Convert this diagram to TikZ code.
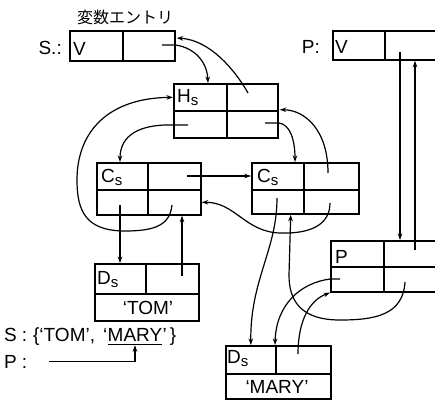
\documentclass[tikz,border=0pt]{standalone}
\usepackage{fontspec}
\setmainfont{Liberation Sans}
\newfontfamily\jpfont{Noto Sans CJK JP}
\usetikzlibrary{arrows.meta,calc}
\newcommand\lows{\raisebox{-3pt}{\fontsize{15}{15}\selectfont s}}
\begin{document}
\begin{tikzpicture}[x=1pt,y=-1pt,
  cell/.style 2 args={draw, line width=1.7pt, inner sep=0pt, anchor=north west,
    minimum width=#1pt, minimum height=#2pt},
  txt/.style={inner sep=0pt, font=\fontsize{19}{19}\selectfont},
  jp/.style={inner sep=0pt, font=\jpfont\fontsize{16}{16}\selectfont},
  ptr/.style={line width=1.2pt, -{Stealth[length=6.5pt,width=4.5pt]}},
  wire/.style={line width=1.2pt}]
\useasboundingbox (0,0) rectangle (435,408);
\clip (0,0) rectangle (435,408);
% variable entry S
\node[cell={53}{30}] (sV) at (69,30) {};
\node[cell={52}{30}] (sR) at (122,30) {};
% variable entry P
\node[cell={52}{29}] (pV) at (332,30) {};
\node[cell={60}{29}] (pR) at (384,30) {};
% Hs
\node[cell={53}{27}] (hTL) at (173,83) {};
\node[cell={51}{27}] (hTR) at (226,83) {};
\node[cell={53}{27}] (hBL) at (173,110) {};
\node[cell={51}{27}] (hBR) at (226,110) {};
% Cs left
\node[cell={51}{27}] (c1TL) at (96,162) {};
\node[cell={53}{27}] (c1TR) at (147,162) {};
\node[cell={51}{25}] (c1BL) at (96,189) {};
\node[cell={53}{25}] (c1BR) at (147,189) {};
% Cs right
\node[cell={52}{27}] (c2TL) at (251,162) {};
\node[cell={55}{27}] (c2TR) at (303,162) {};
\node[cell={52}{24}] (c2BL) at (251,189) {};
\node[cell={55}{24}] (c2BR) at (303,189) {};
% Ds TOM
\node[cell={51}{30}] (dTL) at (94,263) {};
\node[cell={53}{30}] (dTR) at (145,263) {};
\node[cell={104}{27}] (dB) at (94,293) {};
% P lower
\node[cell={53}{26}] (qTL) at (330,240) {};
\node[cell={60}{26}] (qTR) at (383,240) {};
\node[cell={53}{25}] (qBL) at (330,266) {};
\node[cell={60}{25}] (qBR) at (383,266) {};
% Ds MARY
\node[cell={50}{28}] (mTL) at (225,345) {};
\node[cell={55}{28}] (mTR) at (275,345) {};
\node[cell={105}{25}] (mB) at (225,373) {};
% texts
\node[jp] (lJ) at (125,17) {変数エントリ};
\node[txt, anchor=base east] (lS) at (62,54) {S.:};
\node[txt, anchor=base east] (lP) at (320,53) {P:};
\node[txt, anchor=base west] (tSV) at (73,55) {V};
\node[txt, anchor=base west] (tPV) at (335,53) {V};
\node[txt, anchor=base west] (tH) at (177,102) {H\lows};
\node[txt, anchor=base west] (tC1) at (101,182) {C\lows};
\node[txt, anchor=base west] (tC2) at (257,182) {C\lows};
\node[txt, anchor=base west] (tD1) at (97,284) {D\lows};
\node[txt, anchor=base] (tTOM) at (148,314) {`TOM'};
\node[txt, anchor=base west] (tP) at (335,263) {P};
\node[txt, anchor=base west] (tD2) at (227,363) {D\lows};
\node[txt, anchor=base] (tMARY) at (277,393) {`MARY'};
% set expression
\node[txt, anchor=base west] (sA) at (4,341) {S\hspace{5pt}:\hspace{6pt}\{`TOM',\hspace{8pt}`};
\node[txt, anchor=base west] (sM) at (sA.base east) {MARY};
\node[txt, anchor=base west] (sC) at (sM.base east) {'\hspace{3pt}\}};
\node[txt, anchor=base west] (lP2) at (4,368) {P\hspace{5pt}:};
\draw[wire] ($(sM.south west)+(0,3)$) -- ($(sM.south east)+(0,3)$);
\draw[ptr] ($(lP2.east)+(22,0)$) -| ($(sM.south)+(0,4)$);
% pointer origins
\coordinate (a1) at (162,45);
\coordinate (a2) at (248,93);
\coordinate (a3) at (172,205);
\coordinate (a4) at (188,125);
\coordinate (a5) at (265,123);
\coordinate (a6) at (328,173);
\coordinate (a7) at (187,176);
\coordinate (a8) at (120,205);
\coordinate (a9) at (182,276);
\coordinate (a10) at (330,203);
\coordinate (a11) at (277,198);
\coordinate (a12) at (405,282);
\coordinate (a13) at (340,279);
\coordinate (a14) at (298,354);
\coordinate (a15) at (400,52);
\coordinate (a16) at (415,250);
% pointer targets
\coordinate (hIn) at ($(hTL.north west)+(35,0)$);
\coordinate (sIn) at ($(sR.north east)+(1,8)$);
\coordinate (c1In) at ($(c1TL.north west)+(24,0)$);
\coordinate (c2In) at ($(c2TL.north west)+(44,0)$);
\coordinate (hEin) at ($(hTR.south east)+(1,-2)$);
\coordinate (c2Bin) at ($(c2BL.south east)+(-14,0)$);
% connectors
\draw[ptr] (a1) -- (sR.east |- a1) .. controls (195,48) and (207,62) .. (hIn);
\draw[ptr] (a2) .. controls (235,70) and (210,40) .. (sIn);
\draw[ptr] (a3) .. controls (170,225) and (155,231) .. (125,231)
  .. controls (85,231) and (77,210) .. (77,180)
  .. controls (77,130) and (110,98) .. (hTL.west);
\draw[ptr] (a4) -- (hBL.west |- a4) .. controls (140,124) and (120,135) .. (c1In);
\draw[ptr] (a5) -- (hBR.east |- a5) .. controls (290,124) and (295,140) .. (c2In);
\draw[ptr] (a6) .. controls (328,130) and (305,110) .. (hEin);
\draw[ptr] (a7) -- (c2TL.west |- a7);
\draw[ptr] (a8) -- (a8 |- dTL.north);
\draw[ptr] (a9) -- (a9 |- c1BR.south);
\draw[ptr] (a10) .. controls (330,225) and (310,234) .. (280,233)
  .. controls (245,232) and (235,202) .. (c1BR.east);
\draw[ptr] (a11) .. controls (277,250) and (250,280) .. (mTL.north);
\draw[ptr] (a12) .. controls (403,315) and (375,320) .. (340,320)
  .. controls (300,320) and (289,300) .. (289,275) -- (c2Bin);
\draw[ptr] (a13) -- (qBL.west |- a13) .. controls (300,283) and (276,305) .. (mTR.north west);
\draw[ptr] (a14) .. controls (298,320) and (310,300) .. (qBL.south west);
\draw[ptr] (a15) -- (a15 |- qTR.north);
\draw[ptr] (a16) -- (a16 |- pR.south);
\end{tikzpicture}
\end{document}
